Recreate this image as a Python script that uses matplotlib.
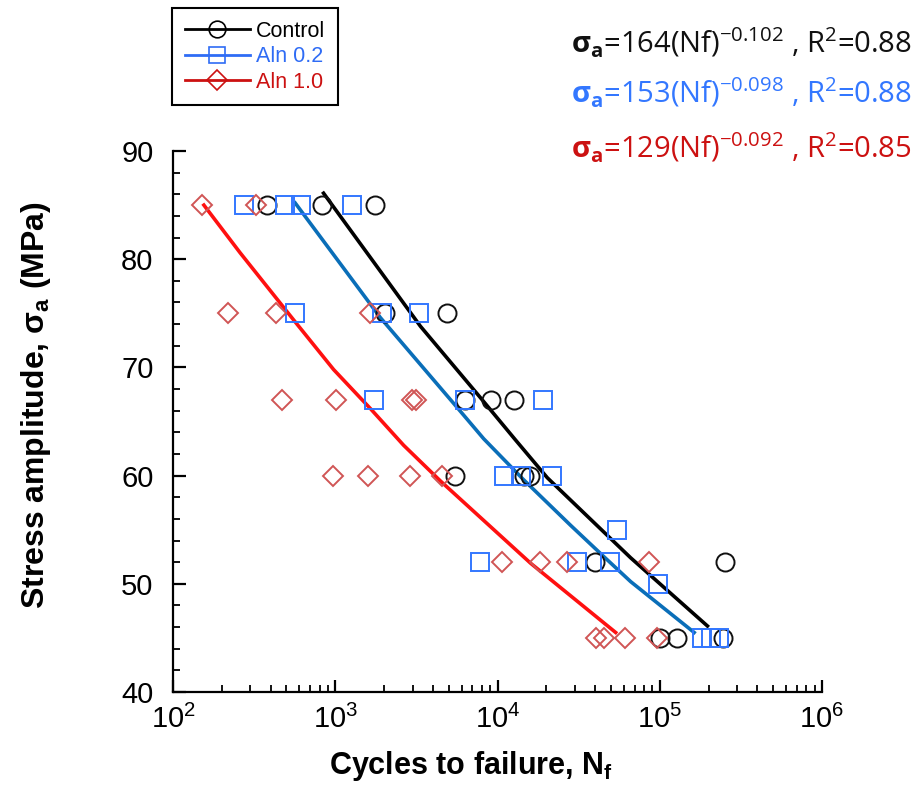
import numpy as np
import matplotlib
matplotlib.use("Agg")
import matplotlib.pyplot as plt
from matplotlib.lines import Line2D
from matplotlib.ticker import MultipleLocator, LogLocator, NullFormatter, FixedLocator

plt.rcParams['font.family'] = ['Liberation Sans', 'DejaVu Sans']
plt.rcParams['mathtext.fontset'] = 'custom'
plt.rcParams['mathtext.rm'] = 'Open Sans'
plt.rcParams['mathtext.it'] = 'Open Sans:italic'
plt.rcParams['mathtext.bf'] = 'Open Sans:bold'

# measured points (cycles, stress amplitude MPa)
control_N = [378, 828, 1766, 2037, 4889, 6340, 9057, 12620, 5440, 14600, 15800,
             39900, 251600, 100500, 127000, 247000]
control_S = [85, 85, 85, 75, 75, 67, 67, 67, 60, 60, 60, 52, 52, 45, 45, 45]

aln02_N = [274, 490, 613, 1268, 561, 1940, 3266, 1725, 6340, 19150, 11040, 14000,
           21700, 54800, 7780, 31000, 49100, 98200, 181500, 206500, 232500]
aln02_S = [85, 85, 85, 85, 75, 75, 75, 67, 67, 67, 60, 60, 60, 55, 52, 52, 52, 50,
           45, 45, 45]

aln10_N = [150, 325, 218, 430, 1644, 469, 1009, 2972, 3148, 973, 1600, 2900, 4550,
           10600, 18250, 26650, 85900, 40300, 45400, 60900, 96800]
aln10_S = [85, 85, 75, 75, 75, 67, 67, 67, 67, 60, 60, 60, 60, 52, 52, 52, 52,
           45, 45, 45, 45]

# fitted curves
fit_control_N = [847, 3350, 7850, 12900, 20280, 66200, 196800]
fit_control_S = [86.1, 73.8, 67.2, 63.3, 59.8, 52.4, 46.1]
fit_aln02_N = [566, 1897, 5637, 8225, 14520, 28240, 45300, 66200, 163000]
fit_aln02_S = [85.2, 74.6, 66.3, 63.4, 59.6, 55.4, 52.5, 50.2, 45.5]
fit_aln10_N = [155, 259, 553, 977, 1645, 2640, 4450, 16000, 53500]
fit_aln10_S = [85.0, 80.6, 74.4, 69.8, 66.2, 62.8, 59.5, 51.9, 45.5]

equations = [r'$\mathbf{\sigma_a}$=164(Nf)$^{-0.102}$ , R$^{2}$=0.88',
             r'$\mathbf{\sigma_a}$=153(Nf)$^{-0.098}$ , R$^{2}$=0.88',
             r'$\mathbf{\sigma_a}$=129(Nf)$^{-0.092}$ , R$^{2}$=0.85']
eq_colors = ['#111111', '#3377ff', '#cc1111']

fig = plt.figure(figsize=(9.18, 7.98), dpi=100)
ax = fig.add_axes([173/918, 1-692/798, (822-173)/918, (692-151)/798])

ms = 13
mew = 1.4
ax.plot(fit_control_N, fit_control_S, color='black', lw=2.6, zorder=3)
ax.plot(fit_aln02_N, fit_aln02_S, color='#0a6eb8', lw=2.6, zorder=3)
ax.plot(fit_aln10_N, fit_aln10_S, color='#ff1010', lw=2.6, zorder=3)

ax.plot(control_N, control_S, 'o', mfc='none', mec='#111111', ms=ms, mew=mew, zorder=4)
ax.plot(aln02_N, aln02_S, 's', mfc='none', mec='#3377ff', ms=ms, mew=mew, zorder=4)
ax.plot(aln10_N, aln10_S, 'D', mfc='none', mec='#d05555', ms=10.5, mew=mew, zorder=4)

ax.set_xscale('log')
ax.set_xlim(1e2, 1e6)
ax.set_ylim(40, 90)
ax.yaxis.set_major_locator(MultipleLocator(10))
ax.yaxis.set_minor_locator(MultipleLocator(2))
ax.xaxis.set_major_locator(FixedLocator([1e2, 1e3, 1e4, 1e5, 1e6]))
ax.xaxis.set_minor_locator(LogLocator(base=10, subs=np.arange(2, 10)))
ax.xaxis.set_minor_formatter(NullFormatter())
ax.set_xticklabels([r'$\mathregular{10^{%d}}$' % e for e in range(2, 7)])

for s in ['top', 'right']:
    ax.spines[s].set_visible(False)
for s in ['left', 'bottom']:
    ax.spines[s].set_linewidth(1.6)
ax.tick_params(which='major', direction='in', length=9, width=1.6, labelsize=21)
ax.tick_params(axis='y', pad=14)
ax.tick_params(axis='x', pad=9)
ax.tick_params(which='minor', direction='in', length=5, width=1.3)

ax.set_xlabel('Cycles to failure, N$\\mathregular{_f}$', fontsize=22, fontweight='bold')
ax.set_ylabel('Stress amplitude, $\\mathregular{\\sigma_a}$ (MPa)', fontsize=23,
              fontweight='bold')
ax.xaxis.set_label_coords(0.459, -0.105)
ax.yaxis.set_label_coords(-0.185, 0.53)

handles = [
    Line2D([], [], color='black', lw=2, marker='o', mfc='none', mec='black', ms=12, mew=1.2),
    Line2D([], [], color='#2f6cf5', lw=2, marker='s', mfc='none', mec='#2f6cf5', ms=12, mew=1.2),
    Line2D([], [], color='#cc1111', lw=2, marker='D', mfc='none', mec='#cc1111', ms=10, mew=1.2),
]
leg = fig.legend(handles, ['Control', 'Aln 0.2', 'Aln 1.0'], loc='upper left',
                 bbox_to_anchor=(172/918, 1-8/798), fontsize=15.5, handlelength=3.0,
                 fancybox=False, edgecolor='black', framealpha=1, borderpad=0.6,
                 labelspacing=0.2, handletextpad=0.3, borderaxespad=0,
                 labelcolor=['black', '#2f6cf5', '#cc1111'])
leg.get_frame().set_linewidth(1.5)

ys = [1-53/798, 1-103/798, 1-158/798]
for txt, c, y in zip(equations, eq_colors, ys):
    fig.text(912/918, y, txt, color=c, fontsize=21, family='Open Sans',
             ha='right', va='baseline')

fig.savefig('out.png', dpi=100)
